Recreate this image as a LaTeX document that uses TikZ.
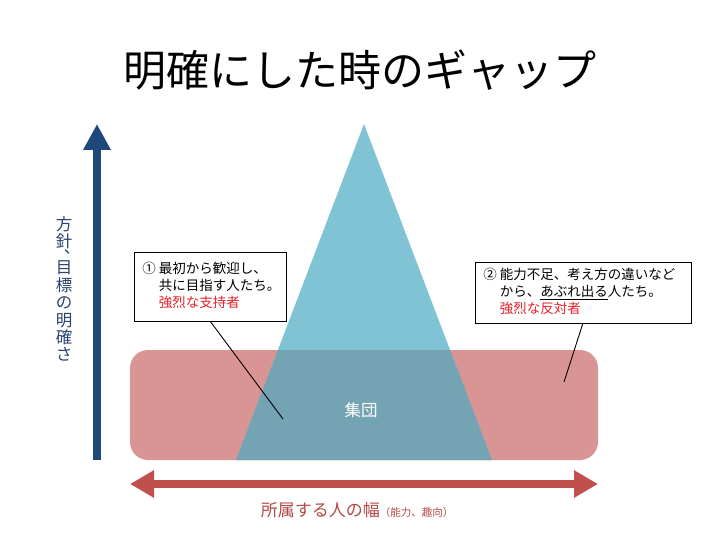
\documentclass[tikz,border=0pt]{standalone}
\usepackage{fontspec}
\setmainfont{Noto Sans CJK JP}
\usetikzlibrary{arrows.meta}
\definecolor{arrblue}{HTML}{1F497D}
\definecolor{vtxt}{HTML}{2A4272}
\definecolor{arrred}{HTML}{C0504D}
\definecolor{lbltxt}{HTML}{B24845}
\definecolor{rectpink}{HTML}{D99594}
\definecolor{trib}{HTML}{7FC3D5}
\definecolor{ovl}{HTML}{74A3B4}
\definecolor{hotred}{HTML}{E3232B}
\tikzset{
  callout/.style={draw=black, line width=0.8pt, fill=white, align=left, inner xsep=8pt, inner ysep=0pt,
    font=\fontsize{13.5}{17}\selectfont},
  pointer/.style={draw=black, line width=0.9pt},
  bigarrow/.style={line width=8pt, -{Triangle[width=26pt,length=26pt]}},
  dblarrow/.style={line width=8pt, {Triangle[width=26pt,length=24pt]}-{Triangle[width=26pt,length=24pt]}},
}
\begin{document}
\begin{tikzpicture}[x=1pt,y=-1pt]
\useasboundingbox (0,0) rectangle (720,540);
% title
\node (title) at (360,70) {\fontsize{43}{48}\selectfont 明確にした時のギャップ};
% group shapes
\fill[rectpink, rounded corners=18pt] (130,350) rectangle (598,460);
\fill[trib] (364,124) -- (492,460) -- (236,460) -- cycle;
\begin{scope}
  \clip[rounded corners=18pt] (130,350) rectangle (598,460);
  \fill[ovl] (364,124) -- (492,460) -- (236,460) -- cycle;
\end{scope}
\node[text=white, font=\fontsize{16.5}{18}\selectfont] (grp) at (361,410) {集団};
% vertical axis
\coordinate (vbot) at (97,460);
\coordinate (vtop) at (97,124);
\draw[arrblue, bigarrow] (vbot) -- (vtop);
\node[text=vtxt, align=center, font=\fontsize{16.5}{17.4}\selectfont, anchor=north, inner sep=0pt] (vlab) at (64,216)
  {方\\針\\[-11pt]\hspace*{16pt}、\\[2.6pt]目\\標\\の\\明\\確\\さ};
% horizontal axis
\coordinate (hl) at (130,484);
\coordinate (hr) at (598,484);
\draw[arrred, dblarrow] (hl) -- (hr);
\node[text=lbltxt, anchor=base] (hlab) at (357,516)
  {\fontsize{17}{20}\selectfont 所属する人の幅\fontsize{10.5}{12}\selectfont （能力、趣向）};
% callouts
\coordinate (p1) at (283,419);
\coordinate (p2) at (564,382);
\draw[pointer] (210,321) -- (p1);
\draw[pointer] (583,323) -- (p2);
\node[callout, anchor=north west, text width=136pt, minimum height=69pt] (box1) at (134,252)
  {\begin{tabular}{@{}l@{\hspace{3pt}}l@{}}①&最初から歓迎し、\\&共に目指す人たち。\\&\textcolor{hotred}{強烈な支持者}\end{tabular}};
\node[callout, anchor=north west, text width=200pt, minimum height=61pt] (box2) at (475,262)
  {\begin{tabular}{@{}l@{\hspace{3pt}}l@{}}②&能力不足、考え方の違いなど\\&から、\underline{あぶれ出る}人たち。\\&\textcolor{hotred}{強烈な反対者}\end{tabular}};
\end{tikzpicture}
\end{document}
